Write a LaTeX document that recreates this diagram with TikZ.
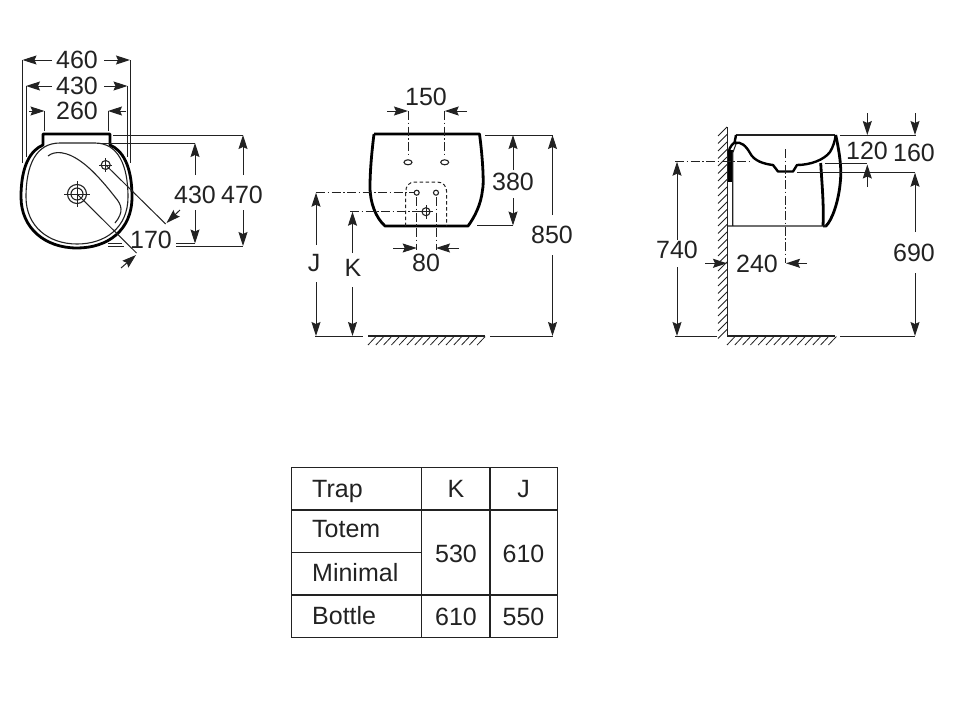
\documentclass[tikz,border=0pt]{standalone}
\usepackage{fontspec}
\setmainfont{Liberation Sans}
\usetikzlibrary{arrows.meta}

\definecolor{inkgrey}{HTML}{222222}

\tikzset{
    dimlabel/.style = {inkgrey, font=\fontsize{25}{29}\selectfont, inner sep=0pt},
    dimline/.style = {inkgrey, line width=1pt},
    dimarrow/.style = {dimline, -{Stealth[length=14pt, width=9pt, inset=2pt]}},
    centreline/.style = {inkgrey, line width=0.9pt, dash pattern=on 9pt off 2.5pt on 1.5pt off 2.5pt},
    heavy/.style = {black, line width=2.8pt, line join=round},
    medium/.style = {black, line width=2.4pt, line join=round},
    thinline/.style = {inkgrey, line width=0.9pt},
    hatchline/.style = {inkgrey, line width=0.8pt},
    tablerule/.style = {inkgrey, line width=1.1pt}
}

\begin{document}
\begin{tikzpicture}[x=1pt, y=-1pt]

    \useasboundingbox (0,0) rectangle (977,702);

    % Top view
    \draw[heavy] (43,134) -- (110,134) -- (110,145) .. controls (122,150) and (132,165) .. (132,197)
        .. controls (132,230) and (108,248) .. (77,248) .. controls (45,248) and (21,228) .. (21,197)
        .. controls (21,165) and (31,150) .. (43,145) -- cycle;
    \draw[thinline, line width=1.1pt] (60,143) -- (95,143) .. controls (118,143) and (128,165) .. (128,197)
        .. controls (128,228) and (105,244) .. (77,244) .. controls (48,244) and (26,226) .. (26,197)
        .. controls (26,165) and (36,143) .. (60,143);
    \draw[thinline, line width=1.1pt] (48,156) .. controls (54,151) and (66,150) .. (83,163)
        .. controls (95,172) and (108,188) .. (115,197) .. controls (122,205) and (124,212) .. (115,223);

    \draw[thinline, line width=1.1pt] (77,194) circle (9.5) (77,194) circle (6);
    \draw[thinline] (64,194) -- (90,194) (77,181) -- (77,207);
    \draw[thinline, line width=1.1pt] (105.7,165) circle (4.5);
    \draw[thinline] (99,165) -- (112,165) (105.7,158) -- (105.7,172);

    \node[dimlabel] (top460) at (77,60) {460};
    \node[dimlabel] (top430) at (77,86) {430};
    \node[dimlabel] (top260) at (77,111) {260};
    \node[dimlabel] (top170) at (151,240) {170};
    \node[dimlabel] (depth430) at (195,195) {430};
    \node[dimlabel] (depth470) at (242,195) {470};

    \draw[dimarrow] (52,60) -- (22.5,60);
    \draw[dimarrow] (104,60) -- (130,60);
    \draw[dimarrow] (52,86) -- (26,86);
    \draw[dimarrow] (104,86) -- (127.5,86);
    \draw[dimarrow] (29,111) -- (44.5,111);
    \draw[dimarrow] (126,111) -- (108,111);
    \draw[dimline] (22.5,60) -- (22.5,163) (130,60) -- (130,163);
    \draw[dimline] (26,86) -- (26,157) (127.5,86) -- (127.5,157);
    \draw[dimline] (44.5,111) -- (44.5,131) (108,111) -- (108,131);

    \draw[dimline] (105.7,165) -- (165.7,224);
    \draw[dimarrow] (180,210) -- (166.5,223);
    \draw[dimline] (77,194) -- (136.5,253);
    \draw[dimarrow] (121,268) -- (136,255);

    \draw[dimline] (113,135) -- (243,135);
    \draw[dimline] (97,143) -- (195,143);
    \draw[dimline] (108,243.5) -- (122,243.5) (108,246) -- (124,246);
    \draw[dimline] (176,243.5) -- (195,243.5) (176,246) -- (243,246);
    \draw[dimarrow] (195,175) -- (195,143);
    \draw[dimarrow] (195,210) -- (195,243.5);
    \draw[dimarrow] (243,175) -- (243,135);
    \draw[dimarrow] (243,210) -- (243,246);

    % Front view
    \draw[heavy] (374,134) -- (479.5,134) .. controls (483,160) and (484,185) .. (482.5,190)
        .. controls (481,205) and (474,218) .. (468,226) -- (385,226)
        .. controls (376,218) and (370,203) .. (370,187) .. controls (370,170) and (372,150) .. (374,134);
    \draw[thinline, line width=1pt, dash pattern=on 3.5pt off 2.5pt] (405.7,226) -- (405.7,192)
        .. controls (405.7,186) and (409,182) .. (415,182) -- (437,182)
        .. controls (443,182) and (446.7,186) .. (446.7,192) -- (446.7,226);

    \draw[thinline, line width=1.1pt] (408,162.3) ellipse (4 and 2.5) (444.7,162.3) ellipse (4 and 2.5);
    \draw[thinline, line width=1.1pt] (416.7,192.7) circle (2.5) (436,192.7) circle (2.5);
    \draw[thinline, line width=1.1pt] (426,211.7) circle (4);
    \draw[thinline] (419,211.7) -- (433,211.7) (426,205) -- (426,218.5);

    \node[dimlabel] (front150) at (426,97) {150};
    \node[dimlabel] (front380) at (513,182) {380};
    \node[dimlabel] (front850) at (552,235) {850};
    \node[dimlabel] (front80) at (426,263) {80};
    \node[dimlabel] (frontJ) at (314,263) {J};
    \node[dimlabel] (frontK) at (353,268) {K};

    \draw[dimarrow] (387,111) -- (408,111);
    \draw[dimarrow] (467,111) -- (444.7,111);
    \draw[centreline] (408,111) -- (408,157);
    \draw[centreline] (444.7,111) -- (444.7,157);

    \draw[dimarrow] (393,248) -- (416.7,248);
    \draw[dimarrow] (459,248) -- (436,248);
    \draw[centreline] (416.7,197) -- (416.7,250);
    \draw[centreline] (436,197) -- (436,250);

    \draw[centreline] (316,192.7) -- (414,192.7);
    \draw[centreline] (350,211.7) -- (422,211.7);
    \draw[dimarrow] (316,245) -- (316,192.7);
    \draw[dimarrow] (316,282) -- (316,336);
    \draw[dimarrow] (352.5,253) -- (352.5,211.7);
    \draw[dimarrow] (352.5,287) -- (352.5,336);

    \draw[dimline] (485,135) -- (552.5,135);
    \draw[dimline] (477,225.5) -- (513,225.5);
    \draw[dimarrow] (513,170) -- (513,135);
    \draw[dimarrow] (513,198) -- (513,225.5);
    \draw[dimarrow] (552.5,215) -- (552.5,135);
    \draw[dimarrow] (552.5,255) -- (552.5,336);

    \draw[dimline] (315,336) -- (363,336);
    \draw[thinline, line width=1.1pt] (368,336) -- (485,336);
    \draw[dimline] (490,336) -- (552.5,336);
    \foreach \x in {368,375.8,...,480}
        \draw[hatchline] (\x,345) -- (\x+8,336.5);

    % Side view
    \draw[thinline, line width=1.3pt] (727.3,127) -- (727.3,336) -- (835,336);
    \foreach \y in {127,134.5,...,336}
        \draw[hatchline] (718,\y+9) -- (727,\y);
    \foreach \x in {727,734.8,...,830}
        \draw[hatchline] (\x,345) -- (\x+8,336.5);
    \draw[dimline] (675,336) -- (716.5,336);
    \draw[dimline] (840,336) -- (915,336);

    \draw[thinline, line width=1.2pt] (736,135) -- (835,135);
    \draw[medium] (736,135) -- (734.5,143) .. controls (741,141) and (746,146) .. (750,153)
        .. controls (754,161) and (764,164) .. (773,165) -- (778,171.5) -- (793,171.5) -- (797,165)
        .. controls (810,165) and (824,160) .. (830,152) .. controls (833,147) and (835,141) .. (835.7,135);
    \draw[heavy] (835.7,135) .. controls (840,155) and (842,170) .. (840,185)
        .. controls (838,203) and (832,220) .. (826,226) -- (823,226);
    \draw[heavy] (820.7,163) .. controls (822,185) and (824,205) .. (823,226);
    \draw[medium] (735,142) .. controls (730,146) and (728,150) .. (729,156);
    \draw[black, line width=5pt] (730.5,150) -- (730.5,182);
    \draw[thinline, line width=1.1pt] (736,144) -- (732.7,153) -- (732.7,226) (727,226) -- (826,226);

    \draw[centreline] (675,161.7) -- (750,161.7);
    \draw[centreline] (785.7,149) -- (785.7,263);

    \node[dimlabel] (side740) at (677,249.5) {740};
    \node[dimlabel] (side240) at (757,263.5) {240};
    \node[dimlabel] (side690) at (914,253) {690};
    \node[dimlabel] (side120) at (867,151) {120};
    \node[dimlabel] (side160) at (914,153) {160};

    \draw[dimarrow] (677,240) -- (677,161.7);
    \draw[dimarrow] (677,267) -- (677,336);
    \draw[dimarrow] (705,263.3) -- (727,263.3);
    \draw[dimarrow] (807,263.3) -- (786,263.3);
    \draw[dimarrow] (915,232) -- (915,172.7);
    \draw[dimarrow] (915,273) -- (915,336);
    \draw[dimline] (797,172.7) -- (915,172.7);
    \draw[dimline] (825,163.3) -- (867.3,163.3);
    \draw[dimline] (840,135) -- (915.5,135);
    \draw[dimarrow] (867.3,113) -- (867.3,135);
    \draw[dimarrow] (867.3,187) -- (867.3,164.5);
    \draw[dimarrow] (915,113) -- (915,135);

    % Table
    \draw[tablerule] (291.7,467.3) rectangle (557.7,637.3);
    \draw[tablerule] (421.3,467.3) -- (421.3,637.3);
    \draw[tablerule] (490,467.3) -- (490,637.3);
    \draw[tablerule] (291.7,510) -- (557.7,510);
    \draw[tablerule] (291.7,552.3) -- (421.3,552.3);
    \draw[tablerule] (291.7,595) -- (557.7,595);

    \node[dimlabel, anchor=base west] (rowTrap) at (312,497) {Trap};
    \node[dimlabel, anchor=base west] (rowTotem) at (312,537) {Totem};
    \node[dimlabel, anchor=base west] (rowMinimal) at (312,581) {Minimal};
    \node[dimlabel, anchor=base west] (rowBottle) at (312,624) {Bottle};
    \node[dimlabel, anchor=base] (headK) at (456,497) {K};
    \node[dimlabel, anchor=base] (headJ) at (523.5,497) {J};
    \node[dimlabel, anchor=base] (totemK) at (456,562) {530};
    \node[dimlabel, anchor=base] (totemJ) at (523.5,562) {610};
    \node[dimlabel, anchor=base] (bottleK) at (456,625) {610};
    \node[dimlabel, anchor=base] (bottleJ) at (523.5,625) {550};

\end{tikzpicture}
\end{document}
